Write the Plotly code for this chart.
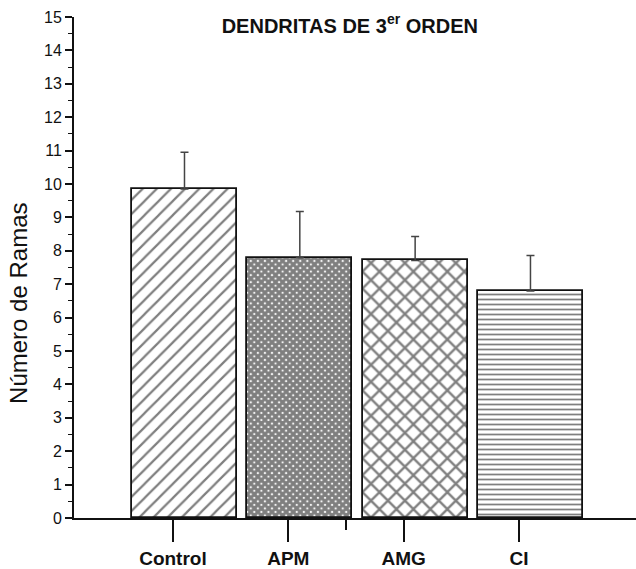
import plotly.graph_objects as go

categories = ["Control", "APM", "AMG", "CI"]
means = [9.85, 7.79, 7.71, 6.80]
errors = [1.10, 1.39, 0.72, 1.06]
patterns = ["/", "x", "x", "-"]
pattern_sizes = [10, 5, 12, 5]
pattern_solidity = [0.22, 0.85, 0.35, 0.35]
y_ticks = list(range(0, 16))

positions = list(range(len(categories)))
label_offset = -0.1
tick_positions = [p + label_offset for p in positions]

font_family = "Liberation Sans, Arial, sans-serif"

fig = go.Figure()
fig.add_trace(go.Bar(
    x=positions,
    y=means,
    width=0.91,
    marker=dict(
        color="white",
        line=dict(color="#111", width=1.8),
        pattern=dict(shape=patterns, size=pattern_sizes, solidity=pattern_solidity,
                     fgcolor="#000", bgcolor="white", fillmode="overlay"),
    ),
    error_y=dict(type="data", array=errors, arrayminus=[0] * len(errors), symmetric=False,
                 color="#444", thickness=1.5, width=4),
    showlegend=False,
))

fig.update_layout(
    width=636, height=569,
    margin=dict(l=74, r=0, t=17, b=49),
    paper_bgcolor="white", plot_bgcolor="white",
    font=dict(family=font_family, color="#111"),
    title=dict(text="<b>DENDRITAS DE 3<sup>er</sup> ORDEN</b>", x=0.55, xanchor="center",
               y=0.955, yanchor="middle", font=dict(size=20, color="#111")),
    bargap=0,
)
fig.update_xaxes(
    range=[-0.958, 3.915],
    tickmode="array", tickvals=tick_positions, ticktext=["<b>%s</b>" % c for c in categories],
    tickfont=dict(size=19, color="#111"),
    ticks="outside", ticklen=22, tickwidth=1.5, tickcolor="#111",
    showline=True, linewidth=2, linecolor="#111",
    showgrid=False, zeroline=False,
    minor=dict(tickmode="array", tickvals=[1.40], ticks="outside", ticklen=10, tickwidth=1.5,
               tickcolor="#111", showgrid=False),
)
fig.update_yaxes(
    range=[0, 15],
    tickmode="array", tickvals=y_ticks,
    tickfont=dict(size=16, color="#111"),
    ticks="outside", ticklen=7, tickwidth=1.5, tickcolor="#111",
    showline=True, linewidth=2, linecolor="#111",
    showgrid=False, zeroline=False,
    minor=dict(dtick=0.5, tick0=0, ticks="outside", ticklen=4, tickwidth=1.2, tickcolor="#111",
               showgrid=False),
)
fig.add_annotation(
    text="Número de Ramas", xref="paper", yref="paper", x=-0.099, y=0.428,
    textangle=-90, showarrow=False, font=dict(size=24, color="#111"),
    xanchor="center", yanchor="middle",
)

fig.write_html("out.html")
